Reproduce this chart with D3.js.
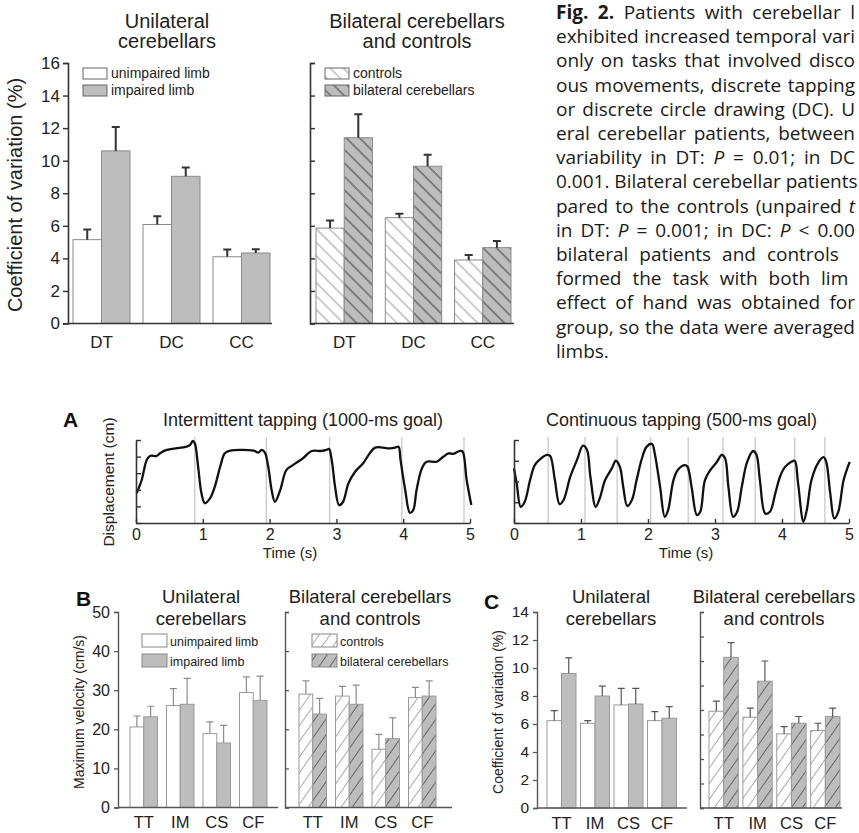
<!DOCTYPE html>
<html>
<head>
<meta charset="utf-8">
<script src="https://cdn.jsdelivr.net/npm/d3@7"></script>
<style>
body { margin: 0; background: #fff; }
svg { display: block; font-family: "Liberation Sans", Arial, sans-serif; }
</style>
</head>
<body>
<svg></svg>
<script>
// ---- top: coefficient of variation, discrete vs continuous tasks
var topCats = ['DT', 'DC', 'CC'];
var uniUnimpaired = [5.15, 6.08, 4.1];
var uniUnimpairedSem = [0.62, 0.5, 0.44];
var uniImpaired = [10.6, 9.04, 4.33];
var uniImpairedSem = [1.47, 0.54, 0.23];
var biControls = [5.86, 6.5, 3.9];
var biControlsSem = [0.47, 0.24, 0.3];
var biPatients = [11.41, 9.66, 4.66];
var biPatientsSem = [1.44, 0.7, 0.41];
var topTicks = [0, 2, 4, 6, 8, 10, 12, 14, 16];

// ---- A: example displacement traces
var intermittentTime = [0.01,0.085,0.16,0.21,0.31,0.36,0.46,0.76,0.81,0.85,0.88,0.93,0.98,1.03,1.11,1.18,1.26,1.33,1.41,1.76,1.83,1.88,1.93,1.98,2.03,2.08,2.16,2.25,2.35,2.5,2.63,2.78,2.85,2.89,2.93,2.98,3.04,3.1,3.18,3.28,3.4,3.5,3.58,3.8,3.88,3.93,3.96,4.03,4.1,4.15,4.2,4.28,4.35,4.5,4.6,4.68,4.75,4.85,4.89,4.95,5.02];
var intermittentDisp = [1.79,2.59,3.8,4.04,4.04,4.2,4.4,4.6,4.7,4.94,4.8,3.39,1.79,1.19,1.5,2.19,3.39,4.2,4.36,4.36,4.24,4.4,4.24,3.39,1.99,1.28,1.99,3.19,3.49,3.9,4.34,4.34,4.4,4.46,3.8,2.19,1.08,1.28,2.39,3.09,3.6,4.2,4.54,4.5,4.54,4.6,3.8,1.99,0.62,0.78,1.99,3.29,3.69,3.69,3.99,4.2,4.16,4.34,4.3,2.59,1.08];
var intermittentTaps = [0.88, 1.95, 2.9, 3.98, 4.91];
var continuousTime = [0,0.04,0.1,0.16,0.24,0.31,0.39,0.49,0.54,0.61,0.68,0.74,0.84,0.94,1.03,1.09,1.14,1.22,1.28,1.36,1.46,1.52,1.58,1.63,1.69,1.76,1.83,1.91,1.98,2.06,2.1,2.18,2.25,2.3,2.38,2.45,2.55,2.59,2.65,2.73,2.78,2.85,2.93,3.03,3.1,3.15,3.2,3.27,3.33,3.4,3.48,3.57,3.62,3.67,3.75,3.82,3.9,3.97,4.04,4.14,4.19,4.24,4.32,4.37,4.44,4.54,4.62,4.66,4.72,4.78,4.84,4.92,5.01];
var continuousDisp = [2.63,1.91,0.78,1.02,2.07,2.79,3.07,3.28,3.23,2.07,0.91,1.11,2.23,3.04,3.73,3.52,2.23,0.78,1.19,2.07,2.63,3.0,2.71,1.75,0.82,1.11,2.07,3.12,3.68,3.81,3.36,1.75,0.3,0.62,2.07,2.58,2.79,2.71,1.75,0.38,0.54,2.07,2.55,2.95,3.28,3.12,1.75,0.3,0.54,1.75,2.95,3.47,3.28,2.07,0.46,0.54,1.43,2.23,2.68,2.95,3.0,1.91,0.06,0.62,2.07,2.9,3.17,2.95,1.43,0.22,0.54,2.07,2.95];
var continuousTaps = [0.51, 1.06, 1.54, 2.04, 2.6, 3.12, 3.6, 4.19, 4.64];
var timeTicks = [0, 1, 2, 3, 4, 5];

// ---- B: maximum velocity, C: coefficient of variation per task
var taskCats = ['TT', 'IM', 'CS', 'CF'];
var velUnimpaired = [20.6, 26.1, 18.9, 29.4];
var velUnimpairedSem = [2.8, 4.3, 3.0, 4.0];
var velImpaired = [23.2, 26.4, 16.5, 27.4];
var velImpairedSem = [2.7, 6.6, 4.5, 6.2];
var velControls = [29.0, 28.5, 14.9, 28.1];
var velControlsSem = [3.4, 2.5, 3.8, 2.6];
var velPatients = [23.9, 26.4, 17.6, 28.5];
var velPatientsSem = [4.0, 4.9, 5.3, 3.9];
var velTicks = [0, 10, 20, 30, 40, 50];

var cvUnimpaired = [6.24, 6.05, 7.36, 6.24];
var cvUnimpairedSem = [0.71, 0.19, 1.18, 0.64];
var cvImpaired = [9.61, 8.0, 7.43, 6.41];
var cvImpairedSem = [1.12, 0.71, 1.11, 0.83];
var cvControls = [7.9, 7.41, 6.05, 6.32];
var cvControlsSem = [0.82, 0.74, 0.6, 0.6];
var cvPatients = [12.3, 10.35, 6.92, 7.47];
var cvPatientsSem = [1.2, 1.65, 0.55, 0.68];
var cvTicks = [0, 2, 4, 6, 8, 10, 12, 14];
var cvTicksRight = [0, 2, 4, 6, 8, 10, 12, 14, 16];

var captionLines = [
  "**Fig. 2.** Patients with cerebellar l",
  "exhibited increased temporal vari",
  "only on tasks that involved disco",
  "ous movements, discrete tapping",
  "or discrete circle drawing (DC). U",
  "eral cerebellar patients, between",
  "variability in DT: *P* = 0.01; in DC",
  "0.001. Bilateral cerebellar patients",
  "pared to the controls (unpaired *t*",
  "in DT: *P* = 0.001; in DC: *P* < 0.00",
  "bilateral patients and controls",
  "formed the task with both lim",
  "effect of hand was obtained for",
  "group, so the data were averaged",
  "limbs."
];

var svg = d3.select('svg').attr('width', 859).attr('height', 833);
var defs = svg.append('defs');

var GRAY = '#bdbdbd';

function hatch(id, w, angle, bg, line, lw) {
  var p = defs.append('pattern').attr('id', id)
    .attr('patternUnits', 'userSpaceOnUse')
    .attr('width', w).attr('height', w)
    .attr('patternTransform', 'rotate(' + angle + ')');
  p.append('rect').attr('width', w).attr('height', w).attr('fill', bg);
  p.append('line').attr('x1', w / 2).attr('x2', w / 2).attr('y1', -1).attr('y2', w + 1)
    .attr('stroke', line).attr('stroke-width', lw);
}
hatch('topCtrl', 9.5, -45, '#fff', '#9a9a9a', 1);
hatch('topPat', 9.5, -45, GRAY, '#555', 1.2);
hatch('lowCtrl', 9, 35, '#fff', '#aaa', 1);
hatch('lowPat', 9, 35, GRAY, '#666', 1);

// bars with error bars on top
function drawBars(g, cats, series, x, y, st) {
  var half = x.bandwidth() / 2;
  series.forEach(function(s, i) {
    g.append('g').selectAll('rect').data(cats).enter().append('rect')
      .attr('x', function(d) { return x(d) + i * half; })
      .attr('width', half)
      .attr('y', function(d, j) { return y(s.values[j]); })
      .attr('height', function(d, j) { return y(0) - y(s.values[j]); })
      .attr('fill', s.fill)
      .attr('stroke', st.barStroke)
      .attr('stroke-width', 1);
  });
  series.forEach(function(s, i) {
    g.append('g').selectAll('path').data(cats).enter().append('path')
      .attr('d', function(d, j) {
        var cx = x(d) + i * half + half / 2;
        var y0 = y(s.values[j]), y1 = y(s.values[j] + s.sem[j]);
        return 'M' + cx + ',' + y0 + 'V' + y1 + 'M' + (cx - st.cap) + ',' + y1 + 'H' + (cx + st.cap);
      })
      .attr('fill', 'none')
      .attr('stroke', st.errColor)
      .attr('stroke-width', st.errWidth);
  });
}

function yAxis(g, y, ticks, axisX, labeled, st) {
  var ax = d3.axisLeft(y).tickValues(ticks).tickSizeOuter(0);
  if (labeled) ax.tickSize(st.tick).tickPadding(st.pad);
  else ax.tickSize(-st.tick).tickFormat('');
  var a = g.append('g').attr('transform', 'translate(' + axisX + ',0)').call(ax);
  a.select('.domain').attr('stroke', st.axisColor).attr('stroke-width', st.axisWidth);
  a.selectAll('.tick line').attr('stroke', st.axisColor).attr('stroke-width', st.axisWidth * 0.9);
  a.selectAll('text').attr('font-size', st.tickFont).attr('fill', '#222')
    .attr('font-family', '"Liberation Sans", Arial, sans-serif');
  return a;
}

function xAxis(g, x, y, x0, x1, st) {
  g.append('line').attr('x1', x0).attr('x2', x1).attr('y1', y(0)).attr('y2', y(0))
    .attr('stroke', st.axisColor).attr('stroke-width', st.axisWidth);
  var a = g.append('g').attr('transform', 'translate(0,' + y(0) + ')')
    .call(d3.axisBottom(x).tickSize(0).tickPadding(st.xPad));
  a.select('.domain').remove();
  a.selectAll('text').attr('font-size', st.xFont).attr('fill', '#222')
    .attr('font-family', '"Liberation Sans", Arial, sans-serif');
}

function title(g, lines, cx, y0, size, gap) {
  g.append('text').attr('text-anchor', 'middle').attr('font-size', size).attr('fill', '#222')
    .selectAll('tspan').data(lines).enter().append('tspan')
    .attr('x', cx).attr('y', function(d, i) { return y0 + i * gap; })
    .text(function(d) { return d; });
}

function legend(g, items, x, y0, gap, w, h, tx, size, stroke) {
  items.forEach(function(it, i) {
    g.append('rect').attr('x', x).attr('y', y0 + i * gap).attr('width', w).attr('height', h)
      .attr('fill', it.fill).attr('stroke', stroke).attr('stroke-width', 1);
    g.append('text').attr('x', tx).attr('y', y0 + i * gap + h - 1.5)
      .attr('font-size', size).attr('fill', '#222').text(it.label);
  });
}

function yLabel(g, text, x, cy, size) {
  g.append('text').attr('transform', 'translate(' + x + ',' + cy + ') rotate(-90)')
    .attr('text-anchor', 'middle').attr('font-size', size).attr('fill', '#222').text(text);
}

// ================= top panel =================
var topSt = { barStroke: '#8a8a8a', cap: 4, errColor: '#333', errWidth: 2,
  axisColor: '#333', axisWidth: 1.6, tick: 5, pad: 3, tickFont: 17, xFont: 17, xPad: 12 };
var topY = d3.scaleLinear().domain([0, 16]).range([323.5, 63]);
var topXL = d3.scaleBand().domain(topCats).range([73, 270]).paddingInner(0.186).paddingOuter(0);
var topXR = d3.scaleBand().domain(topCats).range([316, 511]).paddingInner(0.186).paddingOuter(0);

var topPanel = svg.append('g');
drawBars(topPanel, topCats, [
  { values: uniUnimpaired, sem: uniUnimpairedSem, fill: '#fff' },
  { values: uniImpaired, sem: uniImpairedSem, fill: GRAY }
], topXL, topY, topSt);
drawBars(topPanel, topCats, [
  { values: biControls, sem: biControlsSem, fill: 'url(#topCtrl)' },
  { values: biPatients, sem: biPatientsSem, fill: 'url(#topPat)' }
], topXR, topY, topSt);
yAxis(topPanel, topY, topTicks, 68, true, topSt);
yAxis(topPanel, topY, topTicks, 310, false, topSt);
xAxis(topPanel, topXL, topY, 68, 272, topSt);
xAxis(topPanel, topXR, topY, 310, 514, topSt);
title(topPanel, ['Unilateral', 'cerebellars'], 167, 28, 20, 20);
title(topPanel, ['Bilateral cerebellars', 'and controls'], 417, 28, 20, 20);
legend(topPanel, [{ fill: '#fff', label: 'unimpaired limb' }, { fill: GRAY, label: 'impaired limb' }],
  83, 68, 17, 24, 11, 111, 14, '#666');
legend(topPanel, [{ fill: 'url(#topCtrl)', label: 'controls' }, { fill: 'url(#topPat)', label: 'bilateral cerebellars' }],
  325, 68, 17, 24, 11, 353, 14, '#666');
yLabel(topPanel, 'Coefficient of variation (%)', 22, 195, 20);

// caption, justified to the column edge (last line left as is)
var capG = svg.append('g').attr('font-family', '"Open Sans", sans-serif').attr('font-size', 19).attr('fill', '#1a1a1a');
captionLines.forEach(function(line, i) {
  var t = capG.append('text').attr('x', 556).attr('y', 19 + i * 24.2);
  var parts = line.split(/(\*\*[^*]+\*\*|\*[^*]+\*)/).filter(function(p) { return p.length; });
  parts.forEach(function(p) {
    var s = t.append('tspan');
    if (p.indexOf('**') === 0) s.attr('font-weight', 'bold').text(p.slice(2, -2));
    else if (p.indexOf('*') === 0) s.attr('font-style', 'italic').text(p.slice(1, -1));
    else s.text(p);
  });
  if (i < captionLines.length - 1) {
    var len = t.node().getComputedTextLength();
    var gaps = (line.match(/ /g) || []).length;
    var extra = (855 - 556 - len) / gaps;
    if (extra > 0) t.attr('word-spacing', Math.min(extra, 6));
  }
});

// ================= A: traces =================
var aSt = { axisColor: '#333', axisWidth: 1.6 };
function trace(g, times, disp, taps, x, y, yTicks, name, labelX) {
  g.append('g').selectAll('line').data(taps).enter().append('line')
    .attr('x1', function(d) { return x(d); }).attr('x2', function(d) { return x(d); })
    .attr('y1', y.range()[1] - 3).attr('y2', y(0))
    .attr('stroke', '#c4c4c4').attr('stroke-width', 1.2);
  var line = d3.line().x(function(d) { return x(d[0]); }).y(function(d) { return y(d[1]); })
    .curve(d3.curveCatmullRom.alpha(0.5));
  g.append('path').datum(d3.zip(times, disp)).attr('d', line)
    .attr('fill', 'none').attr('stroke', '#111').attr('stroke-width', 2.3).attr('stroke-linejoin', 'round');
  var ya = g.append('g').attr('transform', 'translate(' + x(0) + ',0)')
    .call(d3.axisLeft(y).tickValues(yTicks).tickSize(-5).tickSizeOuter(0).tickFormat(''));
  ya.select('.domain').attr('stroke', aSt.axisColor).attr('stroke-width', aSt.axisWidth);
  ya.selectAll('.tick line').attr('stroke', aSt.axisColor).attr('stroke-width', 1.4);
  var xa = g.append('g').attr('transform', 'translate(0,' + y(0) + ')')
    .call(d3.axisBottom(x).tickValues(timeTicks).tickFormat(d3.format('d'))
      .tickSize(-4).tickSizeOuter(0).tickPadding(6));
  xa.select('.domain').attr('stroke', aSt.axisColor).attr('stroke-width', aSt.axisWidth);
  xa.selectAll('.tick line').attr('stroke', aSt.axisColor).attr('stroke-width', 1.4);
  xa.selectAll('text').attr('font-size', 16).attr('fill', '#222')
    .attr('font-family', '"Liberation Sans", Arial, sans-serif');
  title(g, [name], (x.range()[0] + x.range()[1]) / 2, 426, 18, 0);
  g.append('text').attr('x', labelX).attr('y', 558).attr('text-anchor', 'middle')
    .attr('font-size', 15).attr('fill', '#222').text('Time (s)');
}
var panelA = svg.append('g');
var aXL = d3.scaleLinear().domain([0, 5]).range([136, 470]);
var aYL = d3.scaleLinear().domain([0, 5]).range([523, 440]);
var aXR = d3.scaleLinear().domain([0, 5]).range([514, 849]);
var aYR = d3.scaleLinear().domain([0, 4]).range([523, 440]);
trace(panelA, intermittentTime, intermittentDisp, intermittentTaps, aXL, aYL, [0, 1, 2, 3, 4, 5],
  'Intermittent tapping (1000-ms goal)', 290);
trace(panelA, continuousTime, continuousDisp, continuousTaps, aXR, aYR, [0, 1, 2, 3, 4],
  'Continuous tapping (500-ms goal)', 686);
yLabel(panelA, 'Displacement (cm)', 114, 482, 15.5);
panelA.append('text').attr('x', 63).attr('y', 427).attr('font-size', 21).attr('font-weight', 'bold')
  .attr('fill', '#111').text('A');

// ================= B: maximum velocity =================
var lowSt = { barStroke: '#9a9a9a', cap: 3.5, errColor: '#8c8c8c', errWidth: 1.2,
  axisColor: '#555', axisWidth: 1.4, tick: 4, pad: 4, tickFont: 16, xFont: 16.5, xPad: 9 };
var bY = d3.scaleLinear().domain([0, 50]).range([807.5, 612]);
var bXL = d3.scaleBand().domain(taskCats).range([130, 267]).paddingInner(0.247).paddingOuter(0);
var bXR = d3.scaleBand().domain(taskCats).range([299, 436]).paddingInner(0.247).paddingOuter(0);
var panelB = svg.append('g');
drawBars(panelB, taskCats, [
  { values: velUnimpaired, sem: velUnimpairedSem, fill: '#fff' },
  { values: velImpaired, sem: velImpairedSem, fill: GRAY }
], bXL, bY, lowSt);
drawBars(panelB, taskCats, [
  { values: velControls, sem: velControlsSem, fill: 'url(#lowCtrl)' },
  { values: velPatients, sem: velPatientsSem, fill: 'url(#lowPat)' }
], bXR, bY, lowSt);
yAxis(panelB, bY, velTicks, 118, true, lowSt);
yAxis(panelB, bY, velTicks, 285, false, lowSt);
xAxis(panelB, bXL, bY, 118, 278, lowSt);
xAxis(panelB, bXR, bY, 285, 452, lowSt);
title(panelB, ['Unilateral', 'cerebellars'], 201, 603, 18.5, 22);
title(panelB, ['Bilateral cerebellars', 'and controls'], 370, 603, 18.5, 22);
legend(panelB, [{ fill: '#fff', label: 'unimpaired limb' }, { fill: GRAY, label: 'impaired limb' }],
  142, 634, 20, 25, 13, 170, 12.5, '#888');
legend(panelB, [{ fill: 'url(#lowCtrl)', label: 'controls' }, { fill: 'url(#lowPat)', label: 'bilateral cerebellars' }],
  312, 634, 20, 25, 13, 340, 12.5, '#888');
yLabel(panelB, 'Maximum velocity (cm/s)', 84, 712, 14);
panelB.append('text').attr('x', 76).attr('y', 606).attr('font-size', 21).attr('font-weight', 'bold')
  .attr('fill', '#111').text('B');

// ================= C: coefficient of variation per task =================
var cSt = Object.assign({}, lowSt, { errColor: '#555', tickFont: 15.5 });
var cYL = d3.scaleLinear().domain([0, 14]).range([808, 612]);
var cYR = d3.scaleLinear().domain([0, 16]).range([808, 612]);
var cXL = d3.scaleBand().domain(taskCats).range([547, 676.5]).paddingInner(0.134).paddingOuter(0);
var cXR = d3.scaleBand().domain(taskCats).range([709, 840]).paddingInner(0.134).paddingOuter(0);
var panelC = svg.append('g');
drawBars(panelC, taskCats, [
  { values: cvUnimpaired, sem: cvUnimpairedSem, fill: '#fff' },
  { values: cvImpaired, sem: cvImpairedSem, fill: GRAY }
], cXL, cYL, cSt);
drawBars(panelC, taskCats, [
  { values: cvControls, sem: cvControlsSem, fill: 'url(#lowCtrl)' },
  { values: cvPatients, sem: cvPatientsSem, fill: 'url(#lowPat)' }
], cXR, cYR, cSt);
yAxis(panelC, cYL, cvTicks, 537, true, cSt);
yAxis(panelC, cYR, cvTicksRight, 700, false, cSt);
xAxis(panelC, cXL, cYL, 537, 687, cSt);
xAxis(panelC, cXR, cYR, 700, 842, cSt);
title(panelC, ['Unilateral', 'cerebellars'], 611, 603, 18.5, 22);
title(panelC, ['Bilateral cerebellars', 'and controls'], 774, 603, 18.5, 22);
yLabel(panelC, 'Coefficient of variation (%)', 503, 712, 14);
panelC.append('text').attr('x', 484).attr('y', 609).attr('font-size', 21).attr('font-weight', 'bold')
  .attr('fill', '#111').text('C');
</script>
</body>
</html>
